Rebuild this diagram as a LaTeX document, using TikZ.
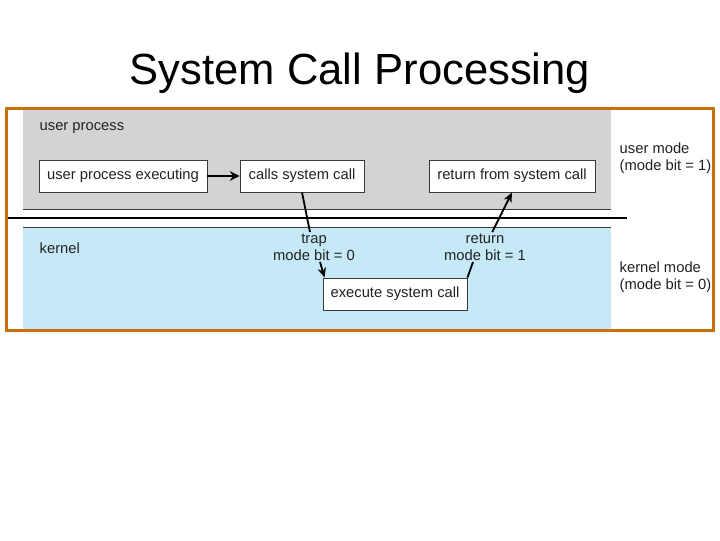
\documentclass[tikz,border=0pt]{standalone}
\usepackage{fontspec}
\setmainfont{Liberation Sans}
\usepackage{xcolor}
\usetikzlibrary{arrows.meta, positioning}
\definecolor{framedraw}{HTML}{C8700F}
\definecolor{userfill}{HTML}{D3D3D5}
\definecolor{kernfill}{HTML}{C6E9F8}
\definecolor{boxdraw}{HTML}{3A3A3A}
\definecolor{inktext}{HTML}{222222}
\tikzset{
  blk/.style={rectangle, draw=boxdraw, fill=white, line width=0.6pt, text=inktext, font=\fontsize{10.5}{12}\selectfont, minimum height=0.8cm, inner sep=2pt},
  lab/.style={font=\fontsize{10.5}{12}\selectfont, text=inktext, align=center, inner sep=1pt},
  side/.style={lab, align=left, anchor=west},
  link/.style={line width=1.3pt, draw=black},
  arr/.style={link, -{Stealth[length=7pt, width=6pt]}},
  arrthick/.style={line width=2pt, draw=black, -{Stealth[length=7pt, width=7pt]}},
}

\begin{document}
\begin{tikzpicture}[x=0.025cm, y=-0.025cm]
  \useasboundingbox (0,0) rectangle (720,540);
  \node[font=\fontsize{31}{37}\selectfont, anchor=base] (title) at (360,84) {System Call Processing};
  % mode panels
  \fill[userfill] (23,110) rectangle (611,209);
  \draw[boxdraw, line width=0.5pt] (23,209) -- (611,209);
  \fill[kernfill] (23,227) rectangle (611,329);
  \draw[boxdraw, line width=0.5pt] (23,227) -- (611,227);
  \draw[black, line width=1.4pt] (6,218) -- (627,218);
  \draw[framedraw, line width=2.1pt] (6.5,108.5) rectangle (713.5,330.5);
  \node[side] (uproc) at (38,128) {user process};
  \node[side] (kern) at (38,248) {kernel};
  \node[side] (umode) at (618,158) {user mode\\(mode bit = 1)};
  \node[side] (kmode) at (618,277) {kernel mode\\(mode bit = 0)};
  % steps
  \node[blk, minimum width=4.2cm] (upe) at (123,176) {user process executing};
  \node[blk, minimum width=3.1cm] (calls) at (302,176) {calls system call};
  \node[blk, minimum width=4.15cm] (retbox) at (512,176) {return from system call};
  \node[blk, minimum width=3.6cm] (exec) at (395,294) {execute system call};
  \node[lab] (trap) at (314,247) {trap\\mode bit = 0};
  \node[lab] (ret) at (485,247) {return\\mode bit = 1};
  \draw[arrthick] (upe) -- (calls);
  \draw[link] (calls.south) -- ([xshift=-0.1cm]trap.north);
  \draw[arr] ([xshift=0.15cm]trap.south) -- ([xshift=0.05cm]exec.north west);
  \draw[link] (exec.north east) -- ([xshift=-0.3cm]ret.south);
  \draw[arr] ([xshift=0.18cm]ret.north) -- (retbox.south);
\end{tikzpicture}
\end{document}
